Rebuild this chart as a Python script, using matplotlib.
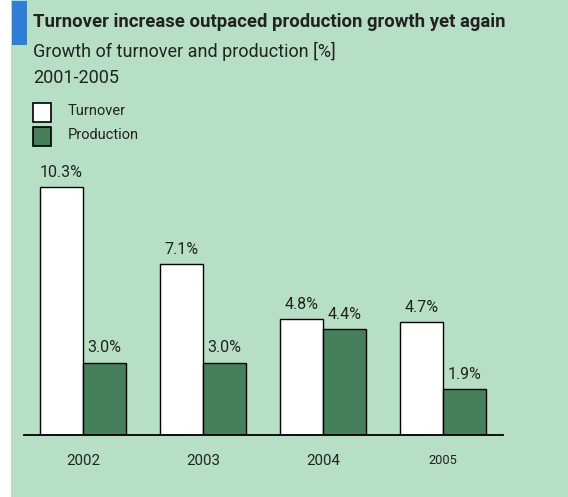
import matplotlib
matplotlib.use("Agg")
import matplotlib.pyplot as plt
from matplotlib.patches import Rectangle
import numpy as np

years = ["2002", "2003", "2004", "2005"]
turnover = [10.3, 7.1, 4.8, 4.7]
production = [3.0, 3.0, 4.4, 1.9]

BG = "#b6dfc6"
GREEN = "#45805a"
BLUE = "#2f7fd8"
TXT = "#222222"

plt.rcParams["font.family"] = ["Roboto", "DejaVu Sans"]

W, H = 568, 497
fig = plt.figure(figsize=(W / 100, H / 100), dpi=100)
fig.patch.set_facecolor("white")

def px(x, y):
    return x / W, 1 - y / H

# green panel with left white margin
fig.patches.append(Rectangle((11 / W, 0), 1 - 11 / W, 1, transform=fig.transFigure,
                             facecolor=BG, edgecolor="none", zorder=-2))
# blue marker next to title
fig.patches.append(Rectangle(px(12, 45), 15 / W, 44 / H, transform=fig.transFigure,
                             facecolor=BLUE, edgecolor="none", zorder=-1))

fig.text(*px(33, 22), "Turnover increase outpaced production growth yet again",
         fontsize=13.3, fontweight="bold", color=TXT, va="center", ha="left")
fig.text(*px(33, 51), "Growth of turnover and production [%]",
         fontsize=13, color=TXT, va="center", ha="left")
fig.text(*px(33, 78), "2001-2005", fontsize=13, color=TXT, va="center", ha="left")

# legend
for i, (lab, col) in enumerate([("Turnover", "white"), ("Production", GREEN)]):
    y0 = 103 + i * 24
    fig.patches.append(Rectangle(px(33, y0 + 19), 18 / W, 19 / H, transform=fig.transFigure,
                                 facecolor=col, edgecolor="black", lw=1.2, zorder=2))
    fig.text(*px(68, y0 + 8), lab, fontsize=10.5, color=TXT, va="center", ha="left")

# chart axes
ax_left, ax_right, ax_bottom, ax_top = 24, 503, 435, 150
ax = fig.add_axes([ax_left / W, 1 - ax_bottom / H, (ax_right - ax_left) / W,
                   (ax_bottom - ax_top) / H])
ax.set_zorder(5)
ax.set_facecolor("none")
x = np.arange(len(years))
bw = 0.358
ax.bar(x - bw / 2, turnover, bw, color="white", edgecolor="black", lw=1.0, zorder=2)
ax.bar(x + bw / 2, production, bw, color=GREEN, edgecolor="black", lw=1.0, zorder=2)
ax.set_xlim(-0.49, 3.5)
ax.set_ylim(0, 285 / 24.1)

for xi, v in zip(x, turnover):
    ax.text(xi - bw / 2, v + 0.3, f"{v:.1f}%", ha="center", va="bottom", fontsize=11.5, color=TXT)
for xi, v in zip(x, production):
    ax.text(xi + bw / 2, v + 0.3, f"{v:.1f}%", ha="center", va="bottom", fontsize=11.5, color=TXT)

for s in ["top", "right", "left"]:
    ax.spines[s].set_visible(False)
ax.spines["bottom"].set_linewidth(1.3)
ax.set_yticks([])
ax.set_xticks(x)
ax.set_xticklabels(years)
ax.tick_params(axis="x", length=0, pad=14, labelsize=10.8, colors=TXT)
ax.get_xticklabels()[-1].set_fontsize(9.2)

fig.savefig("out.png", dpi=100, facecolor=fig.get_facecolor())
